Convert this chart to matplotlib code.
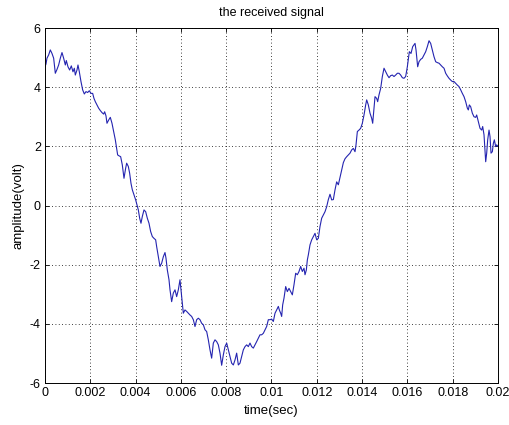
import numpy as np
import matplotlib
matplotlib.use("Agg")
import matplotlib.pyplot as plt

# received signal samples: time in milliseconds, amplitude in volts
time_ms = [
    0.000, 0.044, 0.088, 0.162, 0.235, 0.309, 0.383, 0.456, 0.530, 0.603, 0.677, 0.751, 0.824,
    0.898, 0.942, 1.015, 1.089, 1.163, 1.236, 1.295, 1.339, 1.413, 1.457, 1.516, 1.589,
    1.663, 1.737, 1.810, 1.884, 1.957, 2.031, 2.105, 2.163, 2.222, 2.296, 2.369, 2.443,
    2.517, 2.590, 2.634, 2.693, 2.737, 2.811, 2.884, 2.958, 3.032, 3.105,
    3.164, 3.208, 3.267, 3.341, 3.414, 3.488, 3.561, 3.606, 3.679, 3.738, 3.797, 3.856,
    3.929, 4.003, 4.062, 4.121, 4.180, 4.238, 4.297, 4.371, 4.445, 4.518, 4.592, 4.665,
    4.739, 4.812, 4.886, 4.930, 5.004, 5.077, 5.151, 5.225, 5.298, 5.342, 5.401, 5.475,
    5.519, 5.592, 5.666, 5.740, 5.813, 5.887, 5.960, 6.034, 6.107, 6.181, 6.255, 6.328,
    6.402, 6.475, 6.549, 6.623, 6.696, 6.770, 6.843, 6.917, 6.990, 7.064, 7.138, 7.211,
    7.285, 7.358, 7.432, 7.506, 7.579, 7.653, 7.726, 7.800, 7.873, 7.947, 8.021, 8.094,
    8.168, 8.241, 8.315, 8.389, 8.462, 8.536, 8.609, 8.683, 8.756, 8.830, 8.904, 8.977,
    9.051, 9.124, 9.198, 9.272, 9.345, 9.419, 9.492, 9.566, 9.639, 9.713, 9.786, 9.860,
    9.934, 10.007, 10.081, 10.155, 10.228, 10.302, 10.346, 10.405, 10.449, 10.493, 10.552,
    10.626, 10.699, 10.773, 10.846, 10.920, 10.993, 11.067, 11.141, 11.214, 11.288, 11.361,
    11.435, 11.479, 11.538, 11.582, 11.626, 11.700, 11.774, 11.847, 11.921, 11.994, 12.068,
    12.141, 12.215, 12.289, 12.362, 12.436, 12.509, 12.583, 12.657, 12.730, 12.804, 12.877,
    12.951, 13.024, 13.098, 13.172, 13.245, 13.319, 13.392, 13.466, 13.540, 13.613, 13.687,
    13.731, 13.790, 13.863, 13.937, 14.010, 14.084, 14.158, 14.202, 14.275, 14.349, 14.422,
    14.467, 14.525, 14.570, 14.643, 14.687, 14.746, 14.820, 14.893, 14.967, 15.041, 15.114,
    15.188, 15.261, 15.335, 15.408, 15.482, 15.556, 15.629, 15.703, 15.776, 15.850, 15.923,
    15.997, 16.041, 16.085, 16.159, 16.233, 16.336, 16.380, 16.453, 16.512, 16.586, 16.659,
    16.733, 16.807, 16.880, 16.954, 17.027, 17.101, 17.174, 17.248, 17.322, 17.395, 17.469,
    17.542, 17.616, 17.690, 17.763, 17.837, 17.910, 17.984, 18.057, 18.131, 18.205, 18.278,
    18.352, 18.425, 18.499, 18.573, 18.646, 18.690, 18.734, 18.793, 18.867, 18.940, 19.014,
    19.058, 19.132, 19.205, 19.279, 19.323, 19.382, 19.456, 19.500, 19.544, 19.603, 19.647,
    19.691, 19.750, 19.794, 19.838, 19.897, 19.941, 20.000,
]
amplitude = [
    4.70, 4.78, 4.98, 5.09, 5.26, 5.14, 4.98, 4.47, 4.60, 4.75, 4.98, 5.17, 4.98,
    4.75, 4.90, 4.69, 4.58, 4.72, 4.52, 4.64, 4.41, 4.58, 4.75, 4.52, 4.19,
    3.91, 3.77, 3.85, 3.82, 3.88, 3.79, 3.79, 3.62, 3.51, 3.40, 3.29, 3.21,
    3.14, 3.09, 3.17, 3.03, 2.78, 2.89, 2.98, 2.78, 2.50, 2.22,
    1.93, 1.71, 1.68, 1.65, 1.37, 0.92, 1.26, 1.43, 1.32, 1.09, 0.75, 0.53,
    0.36, 0.19, 0.02, -0.15, -0.43, -0.60, -0.37, -0.15, -0.21, -0.43, -0.60, -0.88,
    -1.05, -1.11, -1.16, -1.39, -1.73, -2.06, -1.95, -1.73, -1.59, -1.78, -2.18, -2.51,
    -2.85, -3.25, -2.96, -2.85, -3.08, -2.85, -2.51, -3.08, -3.64, -3.53, -3.58, -3.64,
    -3.70, -3.75, -3.86, -4.09, -3.86, -3.81, -3.86, -3.98, -4.03, -4.20, -4.26, -4.54,
    -4.88, -5.16, -4.65, -4.54, -4.60, -4.71, -4.99, -5.40, -5.05, -4.77, -4.65, -4.88,
    -5.10, -5.33, -5.39, -5.22, -4.99, -5.39, -5.33, -5.10, -4.88, -4.77, -4.71, -4.77,
    -4.65, -4.77, -4.82, -4.71, -4.60, -4.48, -4.37, -4.37, -4.32, -4.20, -4.09, -3.86,
    -3.86, -3.84, -3.92, -3.64, -3.53, -3.41, -3.53, -3.64, -3.75, -3.36, -3.13,
    -2.74, -2.91, -2.80, -2.91, -3.02, -2.68, -2.29, -2.34, -2.23, -2.06, -2.23,
    -2.12, -2.34, -2.18, -1.84, -1.67, -1.33, -1.16, -1.05, -0.94, -1.16, -1.11,
    -0.71, -0.43, -0.32, -0.21, -0.04, 0.20, 0.38, 0.19, 0.20, 0.53, 0.80,
    0.70, 0.95, 1.20, 1.45, 1.58, 1.65, 1.71, 1.77, 1.88, 1.93, 1.82,
    2.05, 2.50, 2.55, 2.61, 2.78, 3.06, 3.40, 3.57, 3.40, 3.12, 2.95,
    2.78, 3.29, 3.68, 3.62, 3.51, 3.74, 3.96, 4.36, 4.64, 4.52, 4.41,
    4.32, 4.39, 4.41, 4.36, 4.41, 4.47, 4.47, 4.41, 4.32, 4.30, 4.36,
    4.69, 4.95, 5.20, 5.14, 5.37, 5.48, 5.26, 4.69, 4.86, 4.94, 4.98,
    5.09, 5.20, 5.37, 5.57, 5.48, 5.26, 5.03, 4.86, 4.83, 4.81, 4.75,
    4.69, 4.64, 4.47, 4.38, 4.30, 4.24, 4.19, 4.19, 4.13, 4.07, 4.02,
    3.91, 3.79, 3.68, 3.51, 3.29, 3.23, 3.40, 3.34, 3.12, 3.00, 2.98,
    3.06, 2.84, 2.61, 2.55, 2.67, 2.39, 1.48, 1.77, 2.22, 2.55, 2.33,
    1.77, 1.82, 2.10, 2.22, 1.99, 2.05, 2.00,
]

x_ticks = [0, 0.002, 0.004, 0.006, 0.008, 0.01, 0.012, 0.014, 0.016, 0.018, 0.02]
x_tick_labels = ["0", "0.002", "0.004", "0.006", "0.008", "0.01", "0.012",
                 "0.014", "0.016", "0.018", "0.02"]
y_ticks = [-6, -4, -2, 0, 2, 4, 6]
y_tick_labels = ["-6", "-4", "-2", "0", "2", "4", "6"]

plt.rcParams["font.family"] = ["Liberation Sans", "DejaVu Sans"]
plt.rcParams["font.size"] = 9

fig = plt.figure(figsize=(5.10, 4.25), dpi=100)
ax = fig.add_axes([0.0882, 0.0988, 0.8883, 0.8353])

t = np.array(time_ms) / 1000.0
ax.plot(t, amplitude, color="#2424b0", linewidth=0.8)

ax.set_xlim(0, 0.02)
ax.set_ylim(-6, 6)
ax.set_xticks(x_ticks)
ax.set_xticklabels(x_tick_labels)
ax.set_yticks(y_ticks)
ax.set_yticklabels(y_tick_labels)

ax.grid(True, color="black", linestyle=(0, (1, 3)), linewidth=0.6)
ax.tick_params(direction="in", length=3, width=0.6, top=True, right=True,
               labelsize=9, colors="black", pad=3)
for s in ax.spines.values():
    s.set_linewidth(0.7)

ax.set_title("the received signal", fontsize=9, pad=9)
ax.set_xlabel("time(sec)", fontsize=9.5, labelpad=4)
ax.set_ylabel("amplitude(volt)", fontsize=9.5, labelpad=4)

fig.savefig("out.png", dpi=100)
